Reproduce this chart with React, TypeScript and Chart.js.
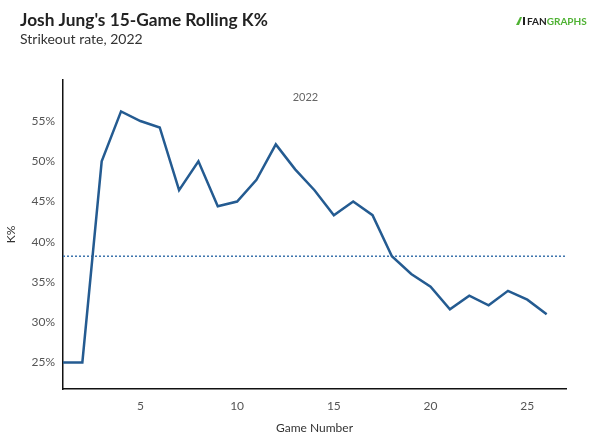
import React, { useEffect, useRef } from 'react';
import { Chart, registerables } from 'chart.js';

Chart.register(...registerables);

// rolling 15-game strikeout rate by game number
const gameNumbers = [1, 2, 3, 4, 5, 6, 7, 8, 9, 10, 11, 12, 13, 14, 15, 16, 17, 18, 19, 20, 21, 22, 23, 24, 25, 26];
const kRate = [25, 25, 50, 56.2, 55, 54.2, 46.4, 50, 44.4, 45, 47.7, 52.1, 49, 46.4, 43.3, 45, 43.3, 38.2, 36, 34.4, 31.6, 33.3, 32.1, 33.9, 32.8, 31];
const seasonAvg = 38.2;
const avgSpan = [1, 27];
const xTicks = [5, 10, 15, 20, 25];
const yTicks = [25, 30, 35, 40, 45, 50, 55];

const FONT = 'Lato, "Open Sans", sans-serif';

// title, subtitle, logo and the facet label
const headerPlugin = {
  id: 'header',
  afterDraw(chart: Chart) {
    const { ctx, chartArea } = chart;
    ctx.save();
    ctx.textBaseline = 'alphabetic';
    ctx.textAlign = 'left';
    ctx.fillStyle = '#222';
    ctx.font = `bold 17.3px ${FONT}`;
    ctx.fillText("Josh Jung's 15-Game Rolling K%", 20, 26);
    ctx.fillStyle = '#333';
    ctx.font = `14px ${FONT}`;
    ctx.fillText('Strikeout rate, 2022', 20, 43.5);

    // fangraphs mark
    ctx.font = `bold 10px ${FONT}`;
    ctx.fillStyle = '#222';
    ctx.fillText('FAN', 527, 25);
    const w = ctx.measureText('FAN').width;
    ctx.fillStyle = '#4fb233';
    ctx.fillText('GRAPHS', 527 + w, 25);
    ctx.fillStyle = '#222';
    ctx.fillRect(523, 17, 2, 8);
    ctx.fillStyle = '#4fb233';
    ctx.beginPath();
    ctx.moveTo(516, 25);
    ctx.lineTo(520, 17);
    ctx.lineTo(522, 17);
    ctx.lineTo(519, 25);
    ctx.closePath();
    ctx.fill();

    ctx.fillStyle = '#666';
    ctx.font = `11px ${FONT}`;
    ctx.textAlign = 'center';
    ctx.fillText('2022', chartArea.left + (chartArea.right - chartArea.left) * 0.482, 101);
    ctx.restore();
  },
};

export default function App() {
  const canvasRef = useRef<HTMLCanvasElement>(null);

  useEffect(() => {
    document.body.style.margin = '0';
    if (!canvasRef.current) return;
    const chart = new Chart(canvasRef.current, {
      type: 'line',
      data: {
        datasets: [
          {
            data: gameNumbers.map((g, i) => ({ x: g, y: kRate[i] })),
            borderColor: '#245b91',
            borderWidth: 2.5,
            pointRadius: 0,
            tension: 0,
          },
          {
            data: avgSpan.map((g) => ({ x: g, y: seasonAvg })),
            borderColor: '#3d74ad',
            borderWidth: 1.5,
            borderDash: [2, 2],
            pointRadius: 0,
          },
        ],
      },
      options: {
        animation: false,
        responsive: false,
        layout: { padding: { top: 80, right: 34, left: 0, bottom: 0 } },
        plugins: { legend: { display: false }, tooltip: { enabled: false } },
        scales: {
          x: {
            type: 'linear',
            min: 1,
            max: 27,
            afterBuildTicks: (axis: any) => {
              axis.ticks = xTicks.map((v) => ({ value: v }));
            },
            afterFit: (axis: any) => {
              axis.height = 58;
            },
            grid: { display: false, drawTicks: false },
            border: { display: true, color: '#111', width: 1.5 },
            ticks: { padding: 10, color: '#555', font: { family: FONT, size: 12 } },
            title: {
              display: true,
              text: 'Game Number',
              color: '#333',
              padding: 12,
              font: { family: FONT, size: 12 },
            },
          },
          y: {
            min: 21.7,
            max: 60.1,
            afterBuildTicks: (axis: any) => {
              axis.ticks = yTicks.map((v) => ({ value: v }));
            },
            afterFit: (axis: any) => {
              axis.width = 63;
            },
            grid: { display: false, drawTicks: false },
            border: { display: true, color: '#111', width: 1.5 },
            ticks: {
              padding: 8,
              color: '#555',
              font: { family: FONT, size: 12 },
              callback: (v: any) => `${v}%`,
            },
            title: {
              display: true,
              text: 'K%',
              color: '#333',
              padding: 4,
              font: { family: FONT, size: 12 },
            },
          },
        },
      },
      plugins: [headerPlugin],
    });
    return () => chart.destroy();
  }, []);

  return (
    <div style={{ width: 600, height: 447, background: '#fff' }}>
      <canvas ref={canvasRef} width={600} height={447} />
    </div>
  );
}
